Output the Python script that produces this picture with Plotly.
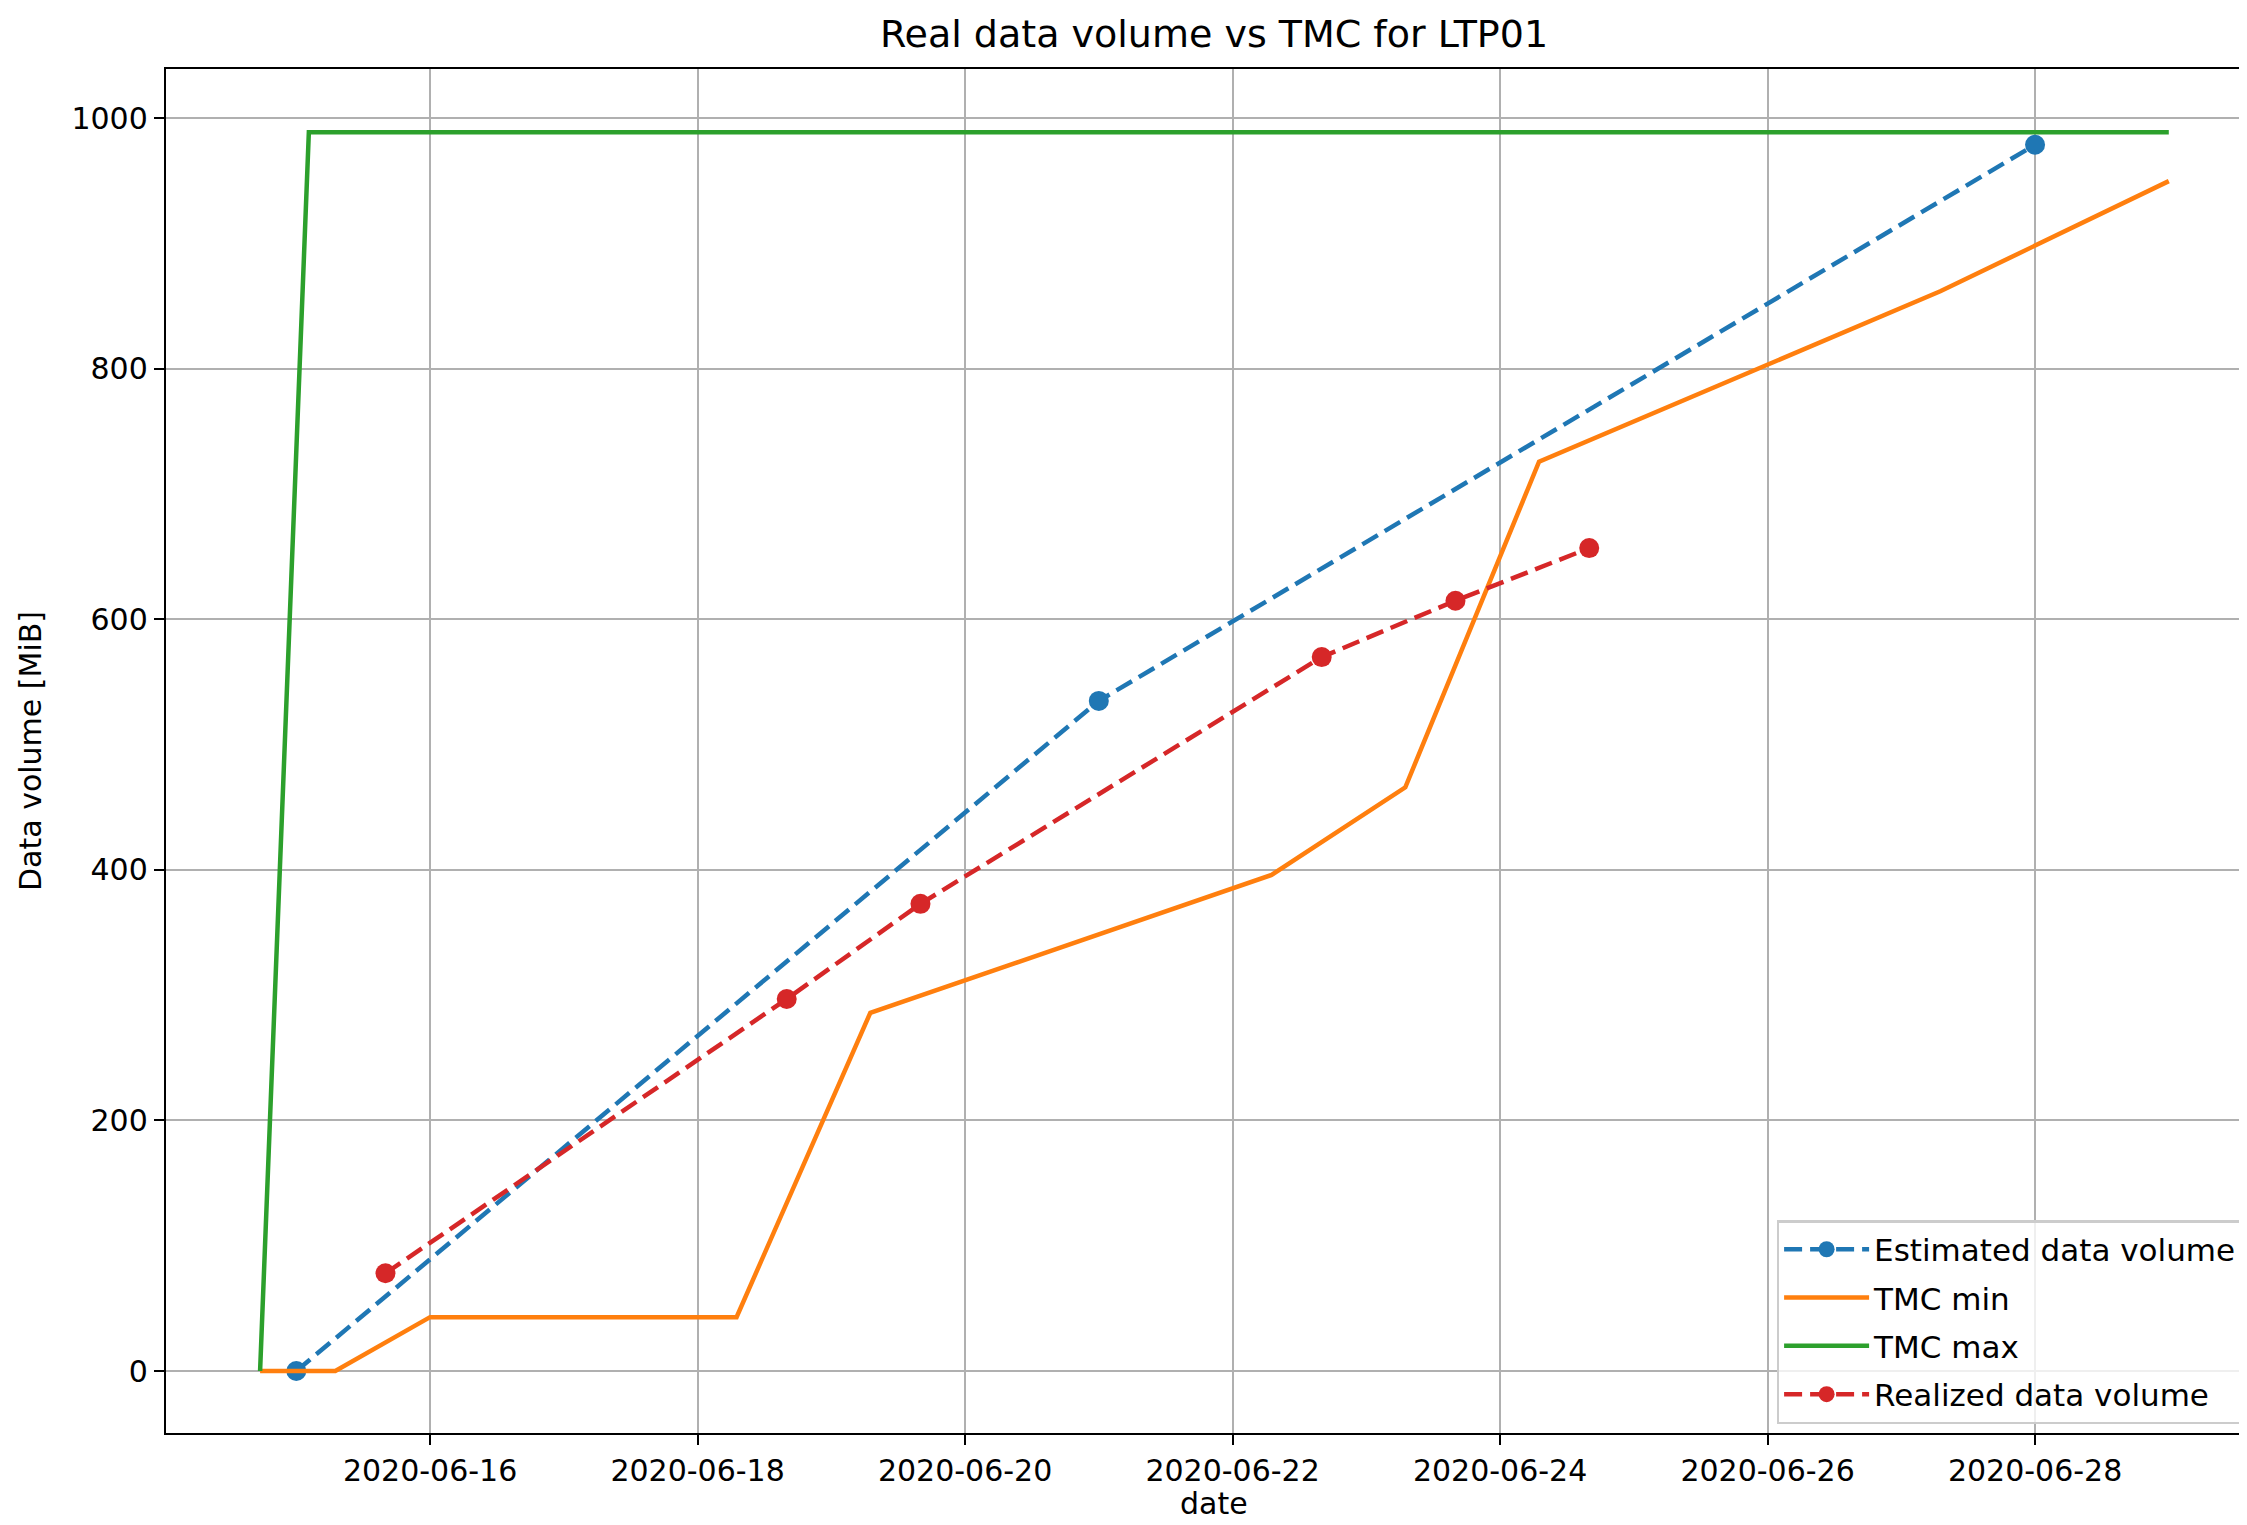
import plotly.graph_objects as go

# ---- data ----
est_dates = ["2020-06-15 00:00", "2020-06-21 00:00", "2020-06-28 00:00"]
est_vals = [0, 535, 979]

min_dates = ["2020-06-14 17:30", "2020-06-15 07:00", "2020-06-16 00:00", "2020-06-18 07:00",
             "2020-06-19 07:00", "2020-06-22 07:00", "2020-06-23 07:00", "2020-06-24 07:00",
             "2020-06-27 07:00", "2020-06-29 00:00"]
min_vals = [0, 0, 43, 43, 286, 396, 466, 726, 862, 950]

max_dates = ["2020-06-14 17:30", "2020-06-15 02:15", "2020-06-29 00:00"]
max_vals = [0, 989, 989]

real_dates = ["2020-06-15 16:00", "2020-06-18 16:00", "2020-06-19 16:00",
              "2020-06-22 16:00", "2020-06-23 16:00", "2020-06-24 16:00"]
real_vals = [78, 297, 373, 570, 615, 657]

y_ticks = [0, 200, 400, 600, 800, 1000]

BLUE, ORANGE, GREEN, RED = "#1f77b4", "#ff7f0e", "#2ca02c", "#d62728"
FONT = "DejaVu Sans"
DASH = "18px,8px"
LW = 4.5

fig = go.Figure()
fig.add_trace(go.Scatter(x=est_dates, y=est_vals, name="Estimated data volume",
                         mode="lines+markers", legendgroup="a",
                         line=dict(color=BLUE, width=LW, dash=DASH),
                         marker=dict(color=BLUE, size=20, line=dict(width=0))))
fig.add_trace(go.Scatter(x=min_dates, y=min_vals, name="TMC min", mode="lines",
                         legendgroup="b", line=dict(color=ORANGE, width=LW)))
fig.add_trace(go.Scatter(x=max_dates, y=max_vals, name="TMC max", mode="lines",
                         legendgroup="c", line=dict(color=GREEN, width=LW)))
fig.add_trace(go.Scatter(x=real_dates, y=real_vals, name="Realized data volume",
                         mode="lines+markers", legendgroup="d",
                         line=dict(color=RED, width=LW, dash=DASH),
                         marker=dict(color=RED, size=20, line=dict(width=0))))

W, H = 2239, 1517  # page body adds an 8px margin
L, T, B = 158, 61, 92
plot_w = W - L
plot_h = H - T - B

fig.update_layout(
    width=W, height=H,
    margin=dict(l=L, r=0, t=T, b=B),
    paper_bgcolor="white", plot_bgcolor="white",
    font=dict(family=FONT, size=30, color="black"),
    title=dict(text="Real data volume vs TMC for LTP01", font=dict(size=38, family=FONT),
               x=(1214 - 8) / W, xref="container", xanchor="center",
               y=1 - (34 - 8) / H, yref="container", yanchor="middle"),
    showlegend=True,
    legend=dict(x=0.774, y=0.156, xanchor="left", yanchor="top",
                bgcolor="rgba(255,255,255,0.8)", bordercolor="#cccccc", borderwidth=2.4,
                font=dict(size=31, family=FONT), traceorder="grouped", tracegroupgap=5,
                itemwidth=85),
    annotations=[dict(text="date", xref="paper", yref="paper",
                      x=(1214 - 8 - L) / plot_w, y=-((1503 - 8) - (H - B)) / plot_h,
                      xanchor="center", yanchor="middle", showarrow=False,
                      font=dict(size=30, family=FONT, color="black"))],
)

fig.update_xaxes(
    type="date", range=["2020-06-14 00:37", "2020-06-29 14:02"],
    tick0="2020-06-16", dtick=2 * 86400000, tickformat="%Y-%m-%d",
    showgrid=True, gridcolor="#b0b0b0", gridwidth=2.4,
    showline=True, linecolor="black", linewidth=2.4, mirror=True,
    ticks="outside", ticklen=10, tickwidth=2.4, tickcolor="black",
    zeroline=False, automargin=False,
)
fig.update_yaxes(
    range=[-49.5, 1039.5], tickvals=y_ticks,
    showgrid=True, gridcolor="#b0b0b0", gridwidth=2.4,
    showline=True, linecolor="black", linewidth=2.4, mirror=False,
    ticks="outside", ticklen=10, tickwidth=2.4, tickcolor="black",
    zeroline=False, automargin=False,
    title=dict(text="Data volume [MiB]", font=dict(size=30, family=FONT), standoff=21),
)

fig.write_html("out.html")
